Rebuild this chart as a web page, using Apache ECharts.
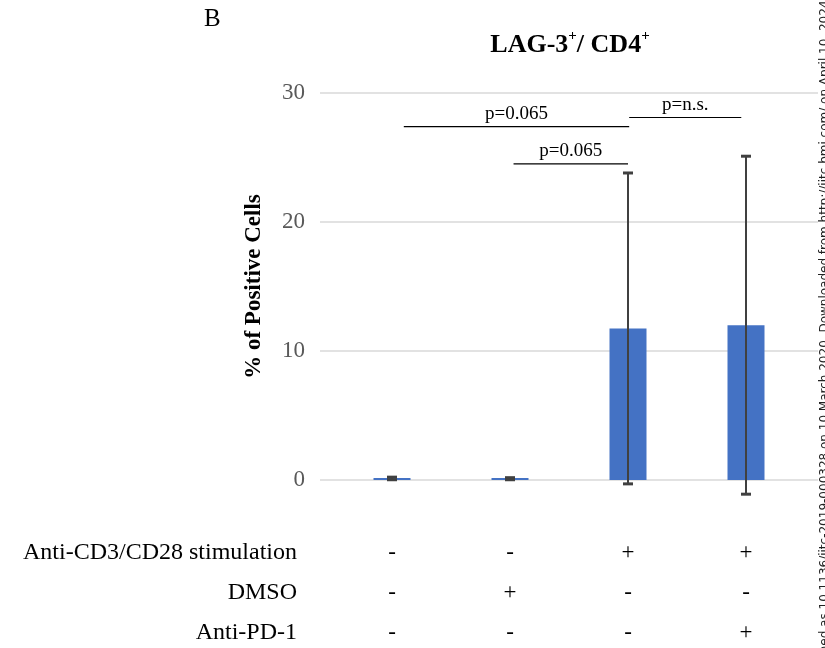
<!DOCTYPE html>
<html>
<head>
<meta charset="utf-8">
<script src="https://cdn.jsdelivr.net/npm/echarts@6/dist/echarts.min.js"></script>
<style>
  html, body { margin: 0; padding: 0; background: #fff; }
  #chart { width: 825px; height: 648px; }
</style>
</head>
<body>
<div id="chart"></div>
<script>
// 그룹 / 값
const groups = ['Unstimulated', 'DMSO', 'Stimulated', 'Stimulated + anti-PD-1'];
const meanValues = [0.12, 0.1, 11.75, 12.0];
const errValues = [0.1, 0.08, 12.05, 13.1];

// 아래 조건표
const rowLabels = ['Anti-CD3/CD28 stimulation', 'DMSO', 'Anti-PD-1'];
const stimRow = ['-', '-', '+', '+'];
const dmsoRow = ['-', '+', '-', '-'];
const pd1Row = ['-', '-', '-', '+'];

// y축
const yMin = 0;
const yMax = 30;
const yStep = 10;

// p-value 괄호 (x는 그룹 번호 기준, y는 % 값)
const bracketFrom = [0.1, 2.01, 1.03];
const bracketTo = [2.01, 2.96, 2.0];
const bracketLevel = [27.4, 28.1, 24.5];
const bracketText = ['p=0.065', 'p=n.s.', 'p=0.065'];

const serif = '"Liberation Serif", "Times New Roman", serif';
const chart = echarts.init(document.getElementById('chart'));

const signAxis = (rowIdx, values, offset) => ({
  type: 'category',
  gridIndex: 0,
  data: groups,
  position: 'bottom',
  offset: offset,
  axisLine: { show: false },
  axisTick: { show: false },
  axisLabel: {
    margin: 0,
    verticalAlign: 'middle',
    fontFamily: serif,
    fontSize: 23,
    color: '#000',
    formatter: (v, i) => values[i]
  },
  name: rowLabels[rowIdx],
  nameLocation: 'start',
  nameGap: 36,
  nameTextStyle: { fontFamily: serif, fontSize: 24, color: '#000', verticalAlign: 'middle' }
});

const option = {
  animation: false,
  backgroundColor: '#fff',
  title: {
    text: '{b|LAG-3}{s|+}{b|/ CD4}{s|+}',
    left: 565,
    top: 24,
    textAlign: 'center',
    textStyle: {
      rich: {
        b: { fontFamily: serif, fontSize: 26, fontWeight: 'bold', color: '#000', lineHeight: 32 },
        s: { fontFamily: serif, fontSize: 15, fontWeight: 'bold', color: '#000', verticalAlign: 'top', lineHeight: 20 }
      }
    }
  },
  graphic: [
    {
      type: 'text', left: 204, top: 7,
      style: { text: 'B', font: '25px ' + serif, fill: '#000' }
    },
    {
      type: 'text', x: 819, y: 324, rotation: Math.PI / 2,
      style: {
        text: 'J Immunother Cancer: first published as 10.1136/jitc-2019-000328 on 10 March 2020. Downloaded from http://jitc.bmj.com/ on April 10, 2024 by guest. Protected by copyright.',
        font: '12px "DejaVu Sans", sans-serif',
        fill: '#222',
        align: 'center',
        verticalAlign: 'top'
      }
    }
  ],
  grid: [
    { left: 333, right: 20, top: 93, bottom: 168 },
    { left: 320, right: 7, top: 93, bottom: 168 }
  ],
  xAxis: [
    { type: 'category', gridIndex: 0, data: groups, show: false },
    signAxis(0, stimRow, 73),
    signAxis(1, dmsoRow, 113),
    signAxis(2, pd1Row, 153),
    { type: 'value', gridIndex: 1, min: 0, max: 1, show: false }
  ],
  yAxis: [
    { type: 'value', gridIndex: 0, min: yMin, max: yMax, interval: yStep, show: false },
    {
      type: 'value', gridIndex: 1, min: yMin, max: yMax, interval: yStep,
      axisLine: { show: false },
      axisTick: { show: false },
      axisLabel: { fontFamily: serif, fontSize: 23, color: '#595959', margin: 15 },
      splitLine: { lineStyle: { color: '#d9d9d9', width: 1.5 } },
      name: '% of Positive Cells',
      nameLocation: 'middle',
      nameRotate: 90,
      nameGap: 54,
      nameTextStyle: { fontFamily: serif, fontSize: 23, fontWeight: 'bold', color: '#000' }
    }
  ],
  series: [
    {
      type: 'bar',
      xAxisIndex: 0, yAxisIndex: 0,
      data: meanValues,
      barWidth: 37,
      barMinHeight: 2,
      itemStyle: { color: '#4472C4' }
    },
    {
      // 오차 막대
      type: 'custom',
      xAxisIndex: 0, yAxisIndex: 0,
      clip: false,
      z: 5,
      data: meanValues.map((m, i) => [i, m - errValues[i], m + errValues[i]]),
      renderItem: (params, api) => {
        const lo = api.coord([api.value(0), api.value(1)]);
        const hi = api.coord([api.value(0), api.value(2)]);
        const cap = 5;
        const style = { stroke: '#404040', lineWidth: 2 };
        return {
          type: 'group',
          children: [
            { type: 'line', shape: { x1: hi[0], y1: hi[1], x2: lo[0], y2: lo[1] }, style },
            { type: 'line', shape: { x1: hi[0] - cap, y1: hi[1], x2: hi[0] + cap, y2: hi[1] }, style: { stroke: '#404040', lineWidth: 3 } },
            { type: 'line', shape: { x1: lo[0] - cap, y1: lo[1], x2: lo[0] + cap, y2: lo[1] }, style: { stroke: '#404040', lineWidth: 3 } }
          ]
        };
      }
    },
    {
      // p-value 괄호
      type: 'custom',
      xAxisIndex: 0, yAxisIndex: 0,
      clip: false,
      z: 6,
      data: bracketLevel.map((y, i) => [bracketFrom[i], bracketTo[i], y]),
      renderItem: (params, api) => {
        const band = api.size([1, 0])[0];
        const p0 = api.coord([0, api.value(2)]);
        const x1 = p0[0] + api.value(0) * band;
        const x2 = p0[0] + api.value(1) * band;
        return {
          type: 'group',
          children: [
            { type: 'line', shape: { x1, y1: p0[1], x2, y2: p0[1] }, style: { stroke: '#000', lineWidth: 1.2 } },
            {
              type: 'text',
              x: (x1 + x2) / 2, y: p0[1] - 3,
              style: {
                text: bracketText[params.dataIndex],
                font: '19px ' + serif,
                fill: '#000',
                align: 'center',
                verticalAlign: 'bottom'
              }
            }
          ]
        };
      }
    }
  ]
};

chart.setOption(option);
</script>
</body>
</html>
